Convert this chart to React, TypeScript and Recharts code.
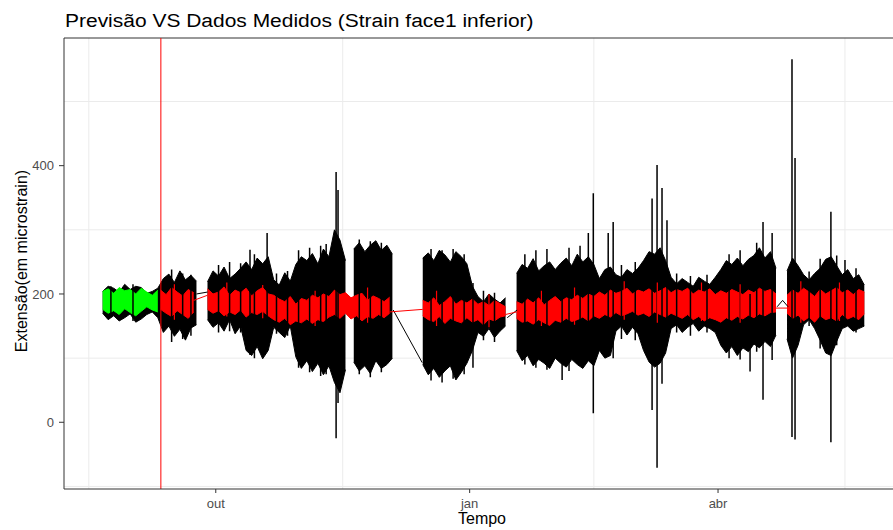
import { ComposedChart, Area, Line, XAxis, YAxis, CartesianGrid, ReferenceLine } from 'recharts';

// time axis: days counted from 1 Oct; envelopes sampled every STEP days
const STEP = 2;
const monthTicks = [0, 92, 182];
const monthLabels = ['out', 'jan', 'abr'];
const minorDays = [-46, 46, 137, 228];
const valueTicks = [0, 200, 400];
const minorValues = [-100, 100, 300, 500];
const forecastStart = -19.9;

// measured strain (black), upper / lower envelope per segment
const blackHiA = [204, 212, 209, 203, 215, 207, 212, 210, 201, 204, 209, 224, 231, 218, 236, 222, 229, 220];
const blackLoA = [170, 160, 166, 158, 163, 169, 156, 161, 168, 172, 163, 140, 150, 134, 145, 128, 147, 152];
const blackHiB1 = [219, 236, 228, 242, 224, 231, 240, 250, 238, 256, 247, 258, 222, 214, 233, 220, 246, 258, 252, 263, 247, 270, 258, 300, 284, 252];
const blackLoB1 = [160, 148, 155, 142, 160, 138, 150, 112, 104, 118, 99, 112, 148, 140, 132, 150, 102, 84, 96, 79, 92, 74, 88, 62, 46, 82];
const blackHiB2 = [270, 280, 266, 276, 283, 268, 276, 262];
const blackLoB2 = [94, 80, 88, 76, 96, 84, 90, 100];
const blackHiC = [256, 264, 252, 268, 261, 250, 266, 258, 247, 212, 196, 188, 200, 192, 186, 194];
const blackLoC = [90, 74, 84, 70, 80, 88, 66, 78, 92, 112, 140, 134, 146, 132, 142, 150];
const blackHiD = [
  232, 246, 240, 255, 236, 244, 250, 238, 248, 256, 244, 262, 250, 258, 246,
  224, 238, 242, 230, 226, 238, 232, 240, 252, 266, 262, 272, 252,
  226, 216, 224, 218, 212, 226, 220, 215, 226, 238, 252, 246, 256, 244, 254,
  260, 272, 256, 266, 240,
];
const blackLoD = [
  112, 96, 104, 88, 98, 92, 84, 100, 92, 86, 98, 90, 84, 96, 88,
  112, 100, 104, 142, 150, 136, 148, 138, 112, 94, 86, 92, 108,
  146, 152, 140, 148, 154, 142, 150, 146, 140, 120, 108, 118, 104, 116, 110,
  122, 116, 126, 118, 136,
];
const blackHiE = [236, 256, 244, 230, 222, 232, 240, 254, 258, 244, 230, 238, 224, 230, 214];
const blackLoE = [130, 100, 120, 152, 160, 146, 128, 108, 104, 126, 146, 150, 142, 146, 150];

// single peaks of the measured series: [day, low, high]
const spikes = [
  [-38, 165, 212], [-30, 158, 215], [-16, 125, 238], [-12, 130, 232], [-9, 135, 230],
  [1, 140, 245], [5, 142, 250], [9, 140, 248], [12.4, 105, 269], [14, 100, 262], [18.6, 110, 295],
  [22, 138, 232], [26, 135, 236], [30, 85, 268], [34, 78, 272], [38, 72, 275], [40, 75, 278],
  [43.6, -25, 390], [44.3, 30, 362], [52, 75, 285], [56, 70, 282], [60, 78, 280],
  [78, 65, 270], [82, 62, 268], [86, 68, 270], [90, 75, 262], [93.2, 85, 217], [97, 128, 205], [101, 125, 202],
  [112, 90, 262], [116, 85, 268], [120, 82, 270], [125.5, 66, 240], [128, 80, 272], [132, 88, 275],
  [135, 100, 295], [136.8, 14, 357], [142.2, 110, 295], [144, 100, 312], [147, 130, 245], [152, 128, 250],
  [158.1, 19, 349], [159.9, -71, 401], [161.7, 60, 365], [163.5, 120, 315], [167, 140, 232], [172, 135, 228],
  [178, 140, 230], [186, 100, 262], [190, 98, 268], [193.6, 79, 200], [196, 110, 280], [198.3, 35, 312],
  [201.6, 97, 295], [208.8, -23, 566], [209.9, -27, 412], [215, 150, 235], [219, 115, 255],
  [222.9, -31, 328], [225, 120, 260], [228, 150, 253], [232, 140, 240],
];

// straight joins across missing data: [day, value]
const blackJoins = [
  [[-7, 200], [-3, 203]],
  [[64.3, 175], [74.8, 93]],
  [[105.6, 163], [109.2, 175]],
  [[203.4, 180], [205.4, 190], [207.4, 180]],
];
const redJoins = [
  [[-8, 190], [-3, 198]],
  [[63, 172], [75, 176]],
  [[105, 168], [109, 172]],
  [[203, 178], [207, 178]],
];

// fitted values over the training period (green)
const greenHi = [204, 208, 201, 210, 205, 207, 200, 209, 203, 198, 206];
const greenLo = [176, 170, 174, 168, 177, 171, 166, 173, 180, 175, 172];

// forecast (red)
const redHiA = [206, 199, 210, 203, 197, 207, 202];
const redLoA = [176, 170, 165, 174, 168, 162, 172];
const redHiB = [208, 200, 203, 211, 198, 206, 202, 209, 197, 205, 210, 200, 198, 192, 188, 196, 184, 193, 190, 198, 194, 200, 196, 206, 199, 202, 194, 198, 201, 190, 197, 193, 188, 195];
const redLoB = [176, 170, 174, 166, 172, 168, 175, 164, 171, 168, 173, 166, 160, 156, 162, 152, 158, 155, 161, 154, 160, 157, 164, 168, 162, 170, 161, 166, 158, 165, 162, 168, 163, 170];
const redHiC = [190, 186, 194, 182, 188, 196, 184, 190, 186, 192, 184, 188, 182, 190, 185, 180];
const redLoC = [166, 160, 157, 165, 154, 162, 158, 155, 163, 156, 160, 152, 161, 158, 164, 166];
const redHiD = [
  188, 184, 192, 186, 194, 183, 190, 196, 188, 194, 191, 198, 193, 200, 196, 203,
  198, 206, 201, 204, 209, 200, 206, 203, 208, 201, 205, 210, 202, 207, 204, 209,
  200, 206, 203, 208, 199, 205, 201, 207, 203, 199, 206, 202, 209, 204, 207, 200,
];
const redLoD = [
  162, 156, 158, 153, 160, 155, 151, 159, 156, 162, 157, 160, 164, 158, 166, 162,
  168, 164, 171, 166, 169, 173, 167, 170, 165, 172, 168, 164, 170, 166, 162, 168,
  160, 165, 158, 163, 160, 156, 163, 159, 165, 161, 167, 163, 169, 166, 171, 172,
];
const redHiE = [198, 206, 201, 209, 203, 196, 207, 200, 205, 210, 202, 206, 199, 207, 203];
const redLoE = [170, 162, 167, 158, 164, 156, 166, 160, 163, 158, 168, 161, 165, 160, 169];

// single peaks of the forecast: [day, low, high]
const redSpikes = [
  [-15, 160, 215], [4, 165, 218], [17, 162, 214], [36, 150, 205], [55, 155, 210], [80, 150, 205],
  [99, 148, 200], [118, 150, 205], [130, 152, 210], [148, 160, 220], [160, 155, 218], [176, 158, 218],
  [190, 155, 215], [212, 155, 220], [226, 158, 218],
];

const toRows = (start: number, hi: number[], lo: number[]) =>
  hi.map((h, i) => ({ t: start + i * STEP, r: [lo[i], h] }));

const blackSegs = [
  toRows(-41, blackHiA, blackLoA),
  toRows(-3, blackHiB1, blackLoB1),
  toRows(50, blackHiB2, blackLoB2),
  toRows(75, blackHiC, blackLoC),
  toRows(109, blackHiD, blackLoD),
  toRows(207, blackHiE, blackLoE),
];
const redSegs = [
  toRows(-20, redHiA, redLoA),
  toRows(-3, redHiB, redLoB),
  toRows(75, redHiC, redLoC),
  toRows(109, redHiD, redLoD),
  toRows(207, redHiE, redLoE),
];
const greenRows = toRows(-41, greenHi, greenLo);

const spikeRows = (list: number[][]) =>
  list.flatMap(([t, lo, hi]) => [{ t, v: lo }, { t, v: hi }, { t, v: null }]);
const joinRows = (joins: number[][][]) =>
  joins.flatMap((j) => [...j.map(([t, v]) => ({ t, v })), { t: j[j.length - 1][0], v: null }]);

const axisColor = '#333333';
const tickStyle = { fill: '#4d4d4d', fontSize: 13 };

export default function App() {
  return (
    <div
      style={{
        position: 'absolute', left: 0, top: 0, width: 893, height: 530, overflow: 'hidden',
        background: '#fff', fontFamily: '"Liberation Sans", Arial, sans-serif',
      }}
    >
      <div
        style={{
          position: 'absolute', left: 65, top: 12, fontSize: 18, lineHeight: 1, color: '#000',
          whiteSpace: 'nowrap', transform: 'scaleX(1.165)', transformOrigin: 'left',
        }}
      >
        Previsão VS Dados Medidos (Strain face1 inferior)
      </div>
      <ComposedChart width={910} height={530} margin={{ top: 38, right: 9, bottom: 0, left: 0 }}>
        <CartesianGrid
          stroke="#ebebeb"
          horizontalValues={[...valueTicks, ...minorValues]}
          verticalValues={[...monthTicks, ...minorDays]}
        />
        <XAxis
          type="number"
          dataKey="t"
          domain={[-55, 248.3]}
          allowDataOverflow
          ticks={monthTicks}
          tickFormatter={(d: number) => monthLabels[monthTicks.indexOf(d)]}
          height={41}
          stroke={axisColor}
          tickSize={4}
          tickMargin={6}
          tick={tickStyle}
        />
        <YAxis
          type="number"
          domain={[-104, 599]}
          allowDataOverflow
          ticks={valueTicks}
          width={64}
          stroke={axisColor}
          tickSize={5}
          tickMargin={5}
          tick={tickStyle}
        />
        <ReferenceLine y={599} stroke={axisColor} />
        {blackSegs.map((rows, i) => (
          <Area key={'b' + i} data={rows} dataKey="r" type="linear" stroke="#000" strokeWidth={1} fill="#000" fillOpacity={1} isAnimationActive={false} />
        ))}
        <Line data={spikeRows(spikes)} dataKey="v" stroke="#000" strokeWidth={1.5} dot={false} isAnimationActive={false} />
        <Line data={joinRows(blackJoins)} dataKey="v" stroke="#000" strokeWidth={1} dot={false} isAnimationActive={false} />
        <Area data={greenRows} dataKey="r" type="linear" stroke="#00ff00" strokeWidth={1} fill="#00ff00" fillOpacity={1} isAnimationActive={false} />
        {redSegs.map((rows, i) => (
          <Area key={'r' + i} data={rows} dataKey="r" type="linear" stroke="#ff0000" strokeWidth={1} fill="#ff0000" fillOpacity={1} isAnimationActive={false} />
        ))}
        <Line data={spikeRows(redSpikes)} dataKey="v" stroke="#ff0000" strokeWidth={1.2} dot={false} isAnimationActive={false} />
        <Line data={joinRows(redJoins)} dataKey="v" stroke="#ff0000" strokeWidth={1} dot={false} isAnimationActive={false} />
        <ReferenceLine x={forecastStart} stroke="#ff0000" strokeWidth={1} />
      </ComposedChart>
      <div
        style={{
          position: 'absolute', left: 482, top: 511, fontSize: 16, lineHeight: 1, color: '#000',
          transform: 'translateX(-50%)', whiteSpace: 'nowrap',
        }}
      >
        Tempo
      </div>
      <div
        style={{
          position: 'absolute', left: 22, top: 261, fontSize: 16, lineHeight: 1, color: '#000',
          transform: 'translate(-50%, -50%) rotate(-90deg)', whiteSpace: 'nowrap',
        }}
      >
        Extensão(em microstrain)
      </div>
    </div>
  );
}
